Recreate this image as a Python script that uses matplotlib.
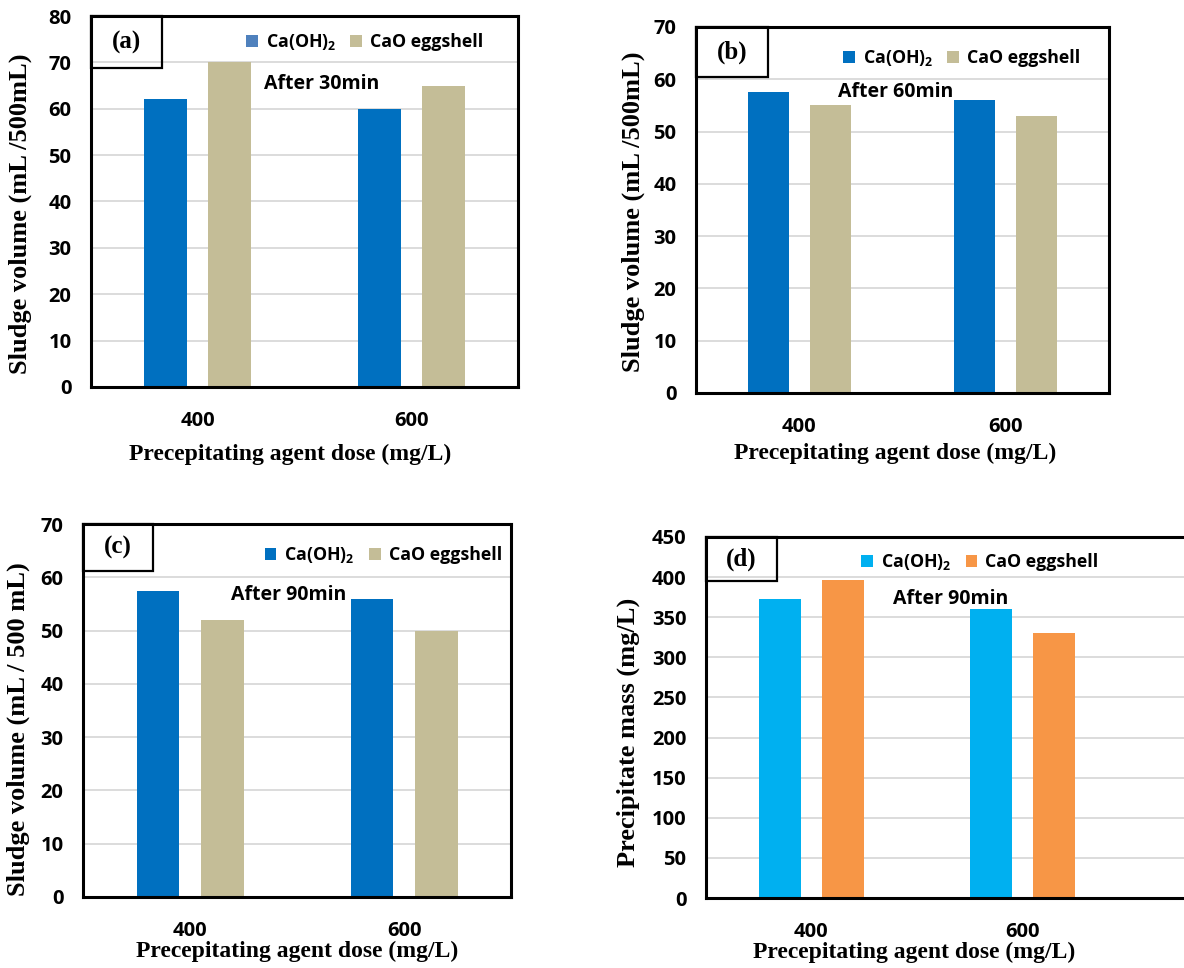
import numpy as np
import matplotlib
matplotlib.use("Agg")
import matplotlib.pyplot as plt
from matplotlib.patches import Rectangle

doses = ["400", "600"]
names = ["Ca(OH)$_2$", "CaO eggshell"]

# sludge volume (mL/500 mL) after 30, 60, 90 min
ca_30 = [62, 60]
egg_30 = [70, 65]
ca_60 = [57.5, 56]
egg_60 = [55, 53]
ca_90 = [57.5, 56]
egg_90 = [52, 50]
# precipitate mass (mg/L) after 90 min
ca_mass = [373, 360]
egg_mass = [396, 330]

SANS = 'Open Sans'
plt.rcParams['font.family'] = SANS
plt.rcParams['font.weight'] = 'bold'
plt.rcParams['mathtext.fontset'] = 'custom'
plt.rcParams['mathtext.rm'] = SANS + ':bold'
plt.rcParams['mathtext.it'] = SANS + ':bold'
plt.rcParams['mathtext.bf'] = SANS + ':bold'

SERIF = 'Liberation Serif'

W, H = 1184, 968
fig = plt.figure(figsize=(W / 100, H / 100), dpi=100)


def panel(box, tag, ca, egg, ymax, step, colors, ylabel, note,
          leg_xy, note_xy, tag_wh, ylab_xy, xlab_xy, xmax=1.5, hand_col=None):
    l, t, r, b = box
    ax = fig.add_axes([l / W, 1 - b / H, (r - l) / W, (b - t) / H])
    x = np.arange(len(doses))
    b1 = ax.bar(x - 0.15, ca, 0.2, color=colors[0], label=names[0], zorder=2)
    b2 = ax.bar(x + 0.15, egg, 0.2, color=colors[1], label=names[1], zorder=2)
    ax.set_xlim(-0.5, xmax)
    ax.set_ylim(0, ymax)
    ax.set_yticks(np.arange(0, ymax + 1, step))
    ax.set_xticks(x, doses)
    ax.yaxis.grid(True, color='#D9D9D9', lw=1.3)
    ax.set_axisbelow(True)
    ax.tick_params(axis='y', length=0, pad=14, labelsize=14.5)
    ax.tick_params(axis='x', length=0, pad=17, labelsize=14.5)
    for sp in ax.spines.values():
        sp.set_linewidth(2.2)

    ax.set_ylabel(ylabel, family=SERIF, weight='bold', fontsize=19, va='center')
    ax.yaxis.set_label_coords(*ylab_xy)
    ax.set_xlabel('Precepitating agent dose (mg/L)', family=SERIF,
                  weight='bold', fontsize=17, va='center')
    ax.xaxis.set_label_coords(*xlab_xy)

    bw, bh = tag_wh
    ax.add_patch(Rectangle((0, 1 - bh), bw, bh, transform=ax.transAxes,
                           fill=False, ec='black', lw=1.6, zorder=5, clip_on=False))
    ax.text(bw / 2, 1 - bh / 2, tag, transform=ax.transAxes, ha='center',
            va='center', family=SERIF, weight='bold', fontsize=18)

    leg = ax.legend(handles=[b1, b2], loc='center left', bbox_to_anchor=leg_xy,
                    ncol=2, frameon=False, borderaxespad=0, borderpad=0,
                    handlelength=0.65, handleheight=0.65, handletextpad=0.45,
                    columnspacing=0.8,
                    prop={'weight': 'bold', 'size': 12.8})
    if hand_col is not None:
        leg.legend_handles[0].set_facecolor(hand_col)

    ax.text(note_xy[0], note_xy[1], note, transform=ax.transAxes, ha='left',
            va='center', weight='bold', fontsize=14)
    return ax


blue_tan = ('#0070C0', '#C4BD97')

panel((91, 16, 518, 387), '(a)', ca_30, egg_30, 80, 10, blue_tan,
      'Sludge volume (mL /500mL)', 'After 30min',
      (0.363, 0.93), (0.405, 0.817), (0.166, 0.14),
      (-0.166, 0.466), (0.467, -0.183), hand_col='#4F81BD')

panel((696, 27, 1109, 393), '(b)', ca_60, egg_60, 70, 10, blue_tan,
      'Sludge volume (mL /500mL)', 'After 60min',
      (0.356, 0.915), (0.344, 0.822), (0.174, 0.137),
      (-0.153, 0.496), (0.483, -0.164))

panel((83, 524, 511, 897), '(c)', ca_90, egg_90, 70, 10, blue_tan,
      'Sludge volume (mL / 500 mL)', 'After 90min',
      (0.425, 0.917), (0.346, 0.81), (0.164, 0.126),
      (-0.152, 0.449), (0.5, -0.147))

panel((706, 537, 1191, 898), '(d)', ca_mass, egg_mass, 450, 50,
      ('#00B0F0', '#F79646'),
      'Precipitate mass (mg/L)', 'After 90min',
      (0.32, 0.93), (0.386, 0.828), (0.146, 0.122),
      (-0.16, 0.459), (0.429, -0.15), xmax=1.8)

fig.savefig('out.png', dpi=100)
